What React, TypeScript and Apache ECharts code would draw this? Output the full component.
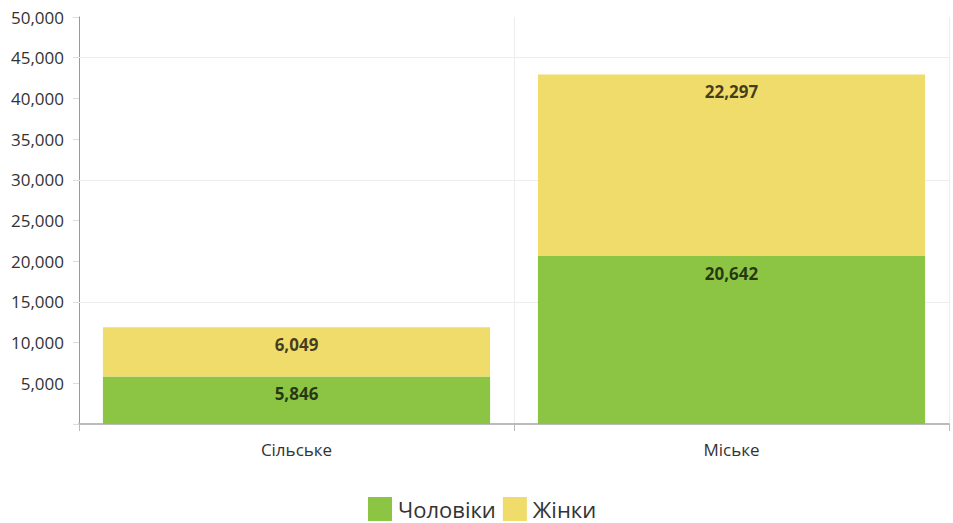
import React, { useEffect, useRef } from "react";
import * as echarts from "echarts";

const categories = ["Сільське", "Міське"];
const men = [5846, 20642];
const women = [6049, 22297];
const seriesNames = ["Чоловіки", "Жінки"];
const gridLineValues = [15000, 30000, 45000];

const FONT = "'Open Sans', 'Noto Sans', sans-serif";

export default function App() {
  const ref = useRef<HTMLDivElement>(null);
  useEffect(() => {
    if (!ref.current) return;
    const chart = echarts.init(ref.current, null, { renderer: "svg" });
    const labelCfg = {
      show: true,
      position: "insideTop",
      distance: 9,
      fontFamily: FONT,
      fontSize: 17,
      fontWeight: "bold",
      color: "rgba(0,0,0,0.72)",
      formatter: (p: any) => Number(p.value).toLocaleString("en-US"),
    };
    chart.setOption({
      animation: false,
      textStyle: { fontFamily: FONT },
      grid: { left: 79, right: 4, top: 17, bottom: 99, containLabel: false },
      legend: {
        top: 497,
        left: 368,
        itemWidth: 24,
        itemHeight: 24,
        itemGap: 7,
        padding: 0,
        icon: "rect",
        textStyle: { fontSize: 22, color: "#333", fontFamily: FONT, padding: [0, 0, 0, 1] },
        data: seriesNames,
      },
      xAxis: {
        type: "category",
        data: categories,
        axisLine: { lineStyle: { color: "#bbb", width: 2 } },
        axisTick: { show: true, length: 7, lineStyle: { color: "#bbb" } },
        axisLabel: { fontSize: 17, color: "#333", margin: 17, fontFamily: FONT },
        splitLine: { show: true, lineStyle: { color: "#ececec", width: 1 } },
      },
      yAxis: {
        type: "value",
        min: 0,
        max: 50000,
        interval: 5000,
        axisLine: { show: true, lineStyle: { color: "#999", width: 1 } },
        axisTick: { show: true, length: 6, lineStyle: { color: "#ddd" } },
        axisLabel: {
          fontSize: 17,
          color: "#333",
          margin: 15,
          fontFamily: FONT,
          formatter: (v: number) => (v === 0 ? "" : v.toLocaleString("en-US")),
        },
        splitLine: { show: false },
      },
      series: [
        {
          name: seriesNames[0],
          type: "bar",
          stack: "total",
          data: men,
          barWidth: "89%",
          z: 3,
          itemStyle: { color: "#8cc444" },
          label: labelCfg,
          markLine: {
            silent: true,
            symbol: "none",
            z: 1,
            label: { show: false },
            lineStyle: { color: "#ededed", width: 1, type: "solid" },
            data: gridLineValues.map((v) => ({ yAxis: v })),
          },
        },
        {
          name: seriesNames[1],
          type: "bar",
          stack: "total",
          data: women,
          barWidth: "89%",
          z: 3,
          itemStyle: { color: "#f0dc6b" },
          label: labelCfg,
        },
      ],
    });
    return () => chart.dispose();
  }, []);
  return <div ref={ref} style={{ width: 953, height: 523, position: "absolute", left: 0, top: 0 }} />;
}
